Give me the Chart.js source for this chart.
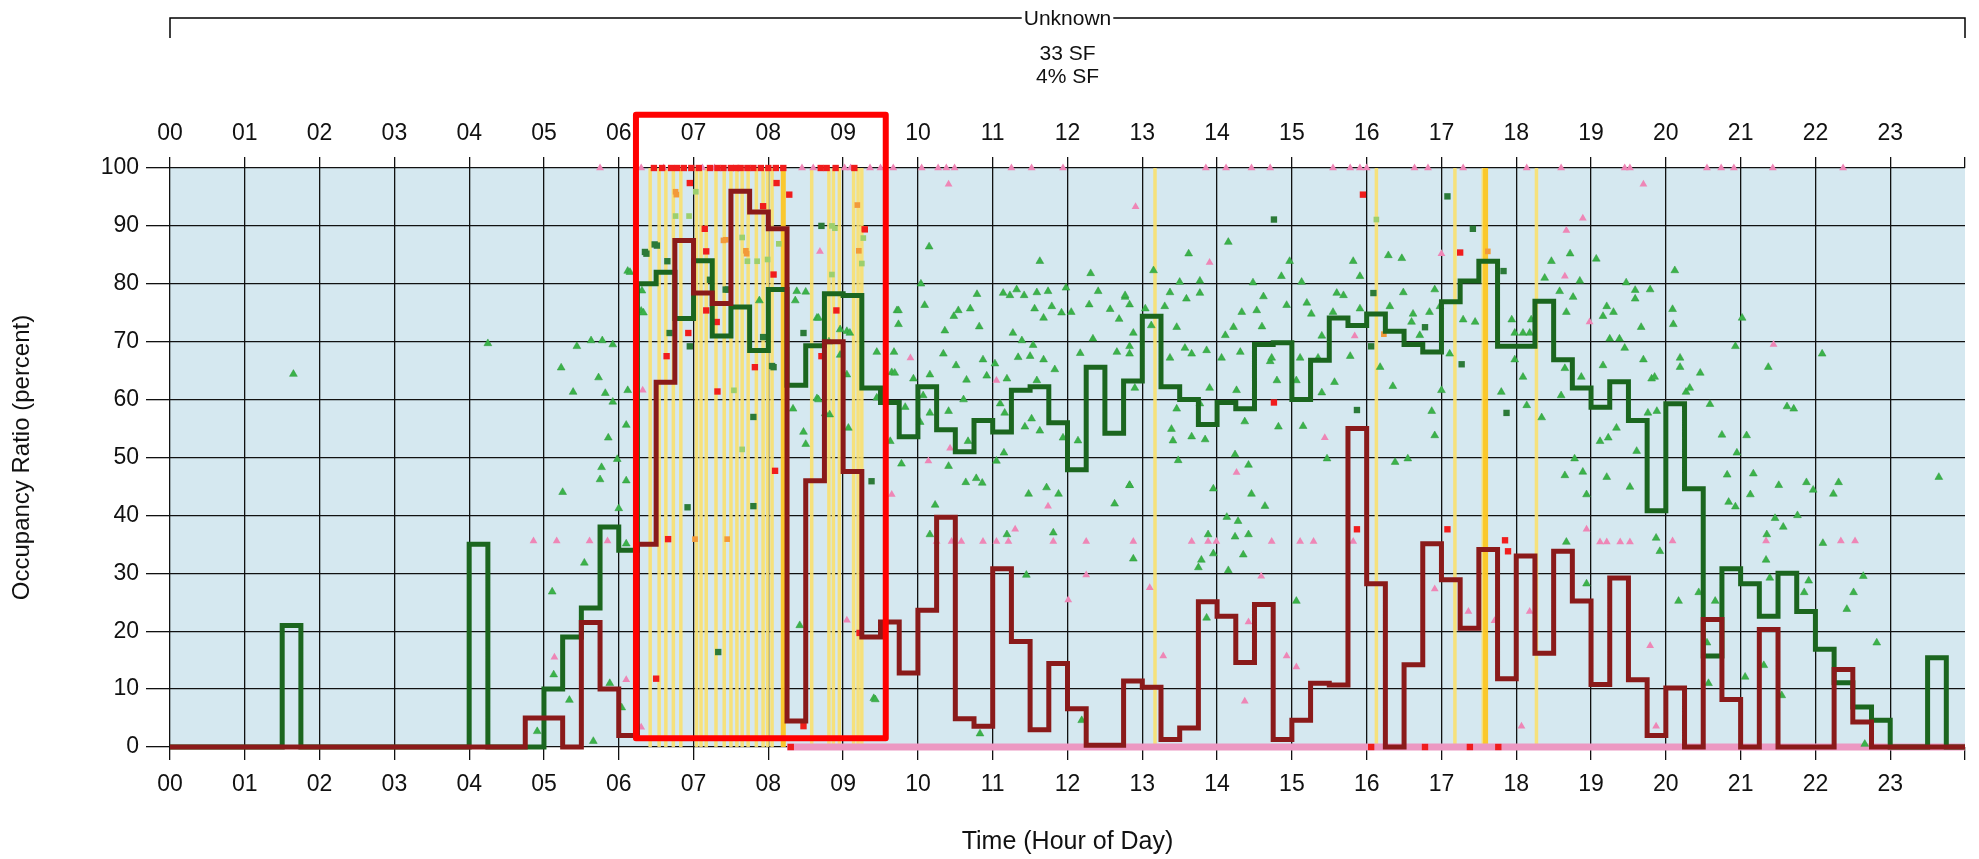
<!DOCTYPE html>
<html>
<head>
<meta charset="utf-8">
<script src="https://cdn.jsdelivr.net/npm/chart.js@4.4.1/dist/chart.umd.min.js"></script>
<style>
  html, body { margin: 0; padding: 0; background: #fff; }
  #wrap { width: 1979px; height: 859px; position: relative; }
</style>
</head>
<body>
<div id="wrap"><canvas id="occ"></canvas></div>
<script>
// hour labels shown on top and bottom axes
const hourLabels = ['00','01','02','03','04','05','06','07','08','09','10','11',
                    '12','13','14','15','16','17','18','19','20','21','22','23'];

// quarter-hour step values (index 0 = 00:00, 1 = 00:15 ...)
const greenSteps = [
  0, 0, 0, 0, 0, 0, 21, 0,  0, 0, 0, 0,  0, 0, 0, 0,
  35, 0, 0, 0, 10, 19, 24, 38,  34, 80, 82, 74,  84, 71, 76, 68.5,
  79, 62.5, 69.3, 78.3,  78, 62, 59.5, 53.6,  62.2, 54.8, 51, 56.4,  54.4, 61.6, 62.2, 56,
  47.9, 65.6, 54.2, 63.2,  74.4, 62.2, 60, 55.7,  59.5, 58.4, 69.5, 69.8,  60, 66.8, 74.1, 72.8,
  74.8, 71.8, 69.5, 68.2,  76.9, 80.5, 83.9, 69.2,  69.2, 77, 66.9, 62,  58.7, 63.1, 56.4, 40.8,
  59.3, 44.6, 15.7, 30.8,  28.2, 22.6, 30, 23.4,  16.9, 11.1, 6.9, 4.6,  0, 0, 15.4, 0
];
const redSteps = [
  0, 0, 0, 0, 0, 0, 0, 0,  0, 0, 0, 0,  0, 0, 0, 0,
  0, 0, 0, 5, 5, 0, 21.5, 10,  2, 35, 63, 87.5,  78.4, 76.6, 96, 92.4,
  89.5, 4.5, 46, 70,  47.6, 19, 21.6, 12.8,  23.6, 39.7, 4.9, 3.6,  30.8, 18.2, 3, 14.4,
  6.6, 0.3, 0.3, 11.4,  10.3, 1.3, 3.3, 25.1,  22.6, 14.6, 24.6, 1.3,  4.6, 11, 10.7, 55,
  28.2, 0, 14.2, 35.1,  28.9, 20.5, 34.1, 11.8,  33, 16.2, 33.8, 25.2,  10.8, 29.2, 11.6, 2,
  10.2, 0, 22, 8.2,  0, 20.3, 0, 0,  0, 13.4, 4.3, 0,  0, 0, 0, 0
];

// individual observations [hour, percent]
const greenTriangles = [
  [1.65,64.4],[4.25,69.7],[4.91,2.7],[5.11,26.8],[5.13,12.5],[5.23,65.5],[5.25,44],[5.34,8.1],
  [5.39,61.3],[5.44,69.2],[5.54,31.8],[5.63,70.2],[5.66,1],[5.73,63.8],[5.75,46.2],[5.77,48.3],
  [5.78,70.2],[5.82,61.1],[5.86,53.4],[5.88,11],[5.92,69.5],[5.92,59.6],[5.98,49.7],[6.0,41.2],
  [6.04,6.8],[6.1,55.6],[6.1,46],[6.1,35.1],[6.12,61.6],[6.12,82.2],[6.15,82],[6.3,75.3],
  [6.31,78.8],[6.33,75],[7.88,77.1],
  [8.33,58.4],[8.36,77.1],[8.38,78.7],[8.42,21],[8.47,54.4],[8.5,52.3],[8.5,78.6],[8.65,74.1],
  [8.65,60.2],[8.67,74.1],[8.67,60],[8.76,57.6],[8.81,70],[8.82,57.4],[8.96,72.1],[8.96,67.7],
  [9.05,71.8],[9.05,64.3],[9.07,55.1],[9.09,71.5],[9.41,8.4],[9.43,8.2],[9.45,68.2],[9.45,60.3],
  [9.63,52.8],[9.65,64.7],[9.68,68.2],[9.69,64.6],[9.72,75.4],[9.74,73],[9.74,75.4],[9.78,48.9],
  [9.83,58.7],[9.94,63.6],[10.03,56.1],[10.04,80],[10.07,60.7],[10.09,76.3],[10.15,86.4],[10.16,64.3],
  [10.16,57.7],[10.16,36.7],[10.23,41.8],[10.34,67.9],[10.36,71.9],[10.41,58],[10.41,48.5],[10.48,74.4],
  [10.51,65.9],[10.54,75.4],[10.61,60],[10.64,45.7],[10.65,63.4],[10.67,52.8],[10.7,75.7],[10.78,46.4],
  [10.79,78.2],[10.82,72.6],[10.83,2.3],[10.86,45.6],[10.87,66.9],[10.92,64.1],[11.03,66.2],[11.05,49.4],
  [11.1,59.3],[11.14,78.4],[11.15,50.8],[11.16,57.7],[11.19,63.6],[11.19,36.7],[11.23,78],[11.27,71.5],
  [11.32,79],[11.34,67.3],[11.39,70.2],[11.42,78],[11.43,55.3],[11.45,29.7],[11.48,43.7],[11.5,67.5],
  [11.52,56.7],[11.54,69.4],[11.56,75.7],[11.59,78.5],[11.59,63.3],[11.63,83.9],[11.63,54.6],[11.68,74.1],
  [11.68,66.9],[11.72,44.8],[11.74,78.7],[11.79,76.1],[11.81,37],[11.83,65.2],[11.88,43.7],[11.92,75],
  [11.94,53.4],[11.98,79.3],[12.05,75.1],[12.14,52.9],[12.17,68],[12.19,4.6],[12.29,76.4],[12.31,81.8],
  [12.34,70.5],[12.41,78.7],[12.57,75.6],[12.63,42],[12.66,68.2],[12.69,73.9],[12.77,77.7],[12.77,78],
  [12.83,69.2],[12.83,45.2],[12.83,76.4],[12.83,67.9],[12.83,45.2],[12.88,71.5],[12.88,32.5],[12.9,62],
  [13.04,75.7],[13.12,72.8],[13.15,82.3],[13.3,76.1],[13.37,78.5],[13.37,67.2],[13.39,54.9],[13.41,52.9],
  [13.46,72.5],[13.46,58.4],[13.48,49.5],[13.5,80.3],[13.57,68.9],[13.59,77.4],[13.62,85.2],[13.66,67.9],
  [13.66,53.6],[13.75,31],[13.77,80.5],[13.77,78.4],[13.77,59.3],[13.79,32.3],[13.84,53.1],[13.86,68.5],
  [13.86,22.3],[13.88,36.7],[13.9,62],[13.95,44.6],[13.95,33.4],[14.06,67.2],[14.11,71.1],[14.13,39.7],
  [14.15,87.2],[14.15,30.5],[14.22,72.5],[14.24,50.5],[14.24,36.3],[14.26,61.6],[14.28,39],[14.31,68.2],
  [14.33,75.1],[14.35,33.2],[14.37,56.2],[14.42,48.7],[14.42,36.7],[14.46,43.7],[14.48,80.2],[14.53,75.4],
  [14.6,72.6],[14.62,77.8],[14.64,41.6],[14.71,66.6],[14.73,67.2],[14.8,63.3],[14.82,55.3],[14.86,81.3],
  [14.93,76.3],[14.97,83.9],[15.06,63.3],[15.06,25.2],[15.11,67.2],[15.13,80.3],[15.15,55.4],[15.2,76.7],
  [15.26,74.8],[15.35,67.2],[15.4,71],[15.4,61.2],[15.47,49.8],[15.55,75.1],[15.57,63],[15.6,78.4],
  [15.69,78],[15.78,67.5],[15.82,83.9],[15.91,81.3],[15.91,75.7],
  [16.18,65.6],[16.29,84.9],[16.31,76.1],[16.35,62.3],[16.38,49.2],[16.47,84.4],[16.49,78.5],[16.55,49.8],
  [16.6,73.4],[16.62,74.8],[16.71,71.1],[16.84,75.1],[16.87,58],[16.91,79],[16.91,53.8],[16.98,76.1],
  [17.0,61.6],[17.11,67.9],[17.29,73.8],[17.45,73.4],[17.8,61.3],[17.94,73.8],[17.98,71.5],[17.98,66.9],
  [18.09,71.5],[18.09,63.9],[18.14,59],[18.18,71.5],[18.2,73.8],[18.34,56.9],[18.38,81],[18.47,83.9],
  [18.58,78.7],[18.6,60.7],[18.65,65.4],[18.65,46.9],[18.67,75.1],[18.67,35.4],[18.72,85.2],[18.76,77.7],
  [18.78,49.8],[18.85,80.5],[18.87,63.9],[18.89,47.5],[18.94,43.6],[18.94,28.2],[19.07,84.3],[19.12,52.8],
  [19.16,74.4],[19.16,65.9],[19.21,76.1],[19.21,46.6],[19.23,53.4],[19.25,70.5],[19.3,75.1],[19.34,55.1],
  [19.38,70.5],[19.45,68.9],[19.47,80.2],[19.52,44.9],[19.59,78.9],[19.59,77.4],[19.61,51.1],[19.67,72.5],
  [19.7,66.9],[19.76,57.7],[19.79,79],[19.81,63.6],[19.85,63.9],[19.87,36.1],[19.88,58],[19.92,33.8],
  [20.09,75.6],[20.1,73],[20.12,82.3],[20.17,25.2],[20.19,67.2],[20.19,65.6],[20.27,61.3],[20.32,62],
  [20.44,26.7],[20.46,64.6],[20.55,18],[20.57,11],[20.59,59.2],[20.66,25.2],[20.75,53.9],[20.82,47],
  [20.84,42.3],[20.93,69.2],[20.93,41.5],[20.95,50.8],[21.02,74.1],[21.06,12.1],[21.08,53.8],[21.13,43.6],
  [21.17,47.2],[21.31,14.1],[21.34,32.3],[21.35,36.7],[21.37,65.6],[21.39,29.2],[21.46,39.5],[21.51,45.2],
  [21.55,8.9],[21.57,38],[21.62,58.8],[21.71,58.4],[21.76,40],[21.85,26.7],[21.88,45.7],[21.91,28.7],
  [21.97,44.4],[22.09,67.9],[22.1,35.2],[22.24,43.7],[22.31,45.7],[22.42,23.8],[22.51,26.7],[22.64,29.5],
  [22.66,0.5],[22.82,18],[23.65,46.6]
];
const pinkTriangles = [
  [5.75,100],[6.3,100],[6.6,100],[7.12,100],[7.28,100],[8.45,100],[8.6,100],[9.02,100],[9.1,100],
  [9.36,100],[9.5,100],[9.67,100],[10.05,100],[10.27,100],[10.38,100],[10.49,100],[11.25,100],
  [11.52,100],[11.94,100],[13.85,100],[14.12,100],[14.46,100],[14.71,100],[15.55,100],[15.78,100],
  [15.91,100],[16.0,100],[16.64,100],[16.82,100],[17.29,100],[18.14,100],[18.6,100],[19.45,100],
  [19.52,100],[20.55,100],[20.74,100],[20.91,100],[21.43,100],[22.37,100],
  [4.86,35.6],[5.17,35.6],[5.61,35.6],[5.85,35.6],[5.14,15.5],[6.1,11.6],[6.3,3.4],[6.32,61.6],
  [8.69,85.6],[9.05,21.9],[9.65,43.6],[9.9,67.2],[10.14,49.4],[10.41,97.2],[10.43,51.6],[11.05,63.3],
  [11.3,37.6],[11.74,41.6],[12.01,25.4],[12.25,29.7],
  [10.25,35.5],[10.45,35.5],[10.58,35.5],[10.87,35.5],[11.05,35.5],[11.21,35.5],[11.81,35.5],[12.25,35.5],
  [12.88,35.5],[13.66,35.5],[13.88,35.5],[13.99,35.5],[14.73,35.5],[15.11,35.5],[15.29,35.5],[15.82,35.5],
  [12.91,93.3],[13.9,83.7],[14.26,47.4],[13.1,27.5],[14.59,29.5],[14.42,21.6],[13.28,15.7],[14.93,15.7],
  [15.06,13.8],[15.44,53.4],[14.37,7.9],[15.84,71],
  [19.7,97.2],[18.89,91.3],[18.67,89.2],[17.0,85.2],[18.65,81.3],[18.98,73.4],[16.91,27.3],[17.36,23.4],
  [17.71,21.8],[18.18,23.4],[18.07,3.6],[18.94,37.6],[19.12,35.4],[19.21,35.4],[19.39,35.4],[19.52,35.4],
  [19.79,17.5],[20.09,35.6],[21.34,35.6],[22.34,35.6],[22.53,35.6],[21.44,69.5],[19.87,3.6]
];
const darkGreenSquares = [
  [6.35,85.5],[6.48,86.8],[6.37,85.2],[6.51,86.6],[6.65,83.9],[6.68,71.5],[6.95,69.2],[6.92,41.4],
  [7.33,16.4],[7.8,57],[7.8,41.6],[7.93,70.8],[7.46,79],[7.22,80.7],[7.43,79],[8.05,65.8],
  [8.07,65.6],[8.47,71.5],[8.71,90],[9.38,45.9],[14.76,91.1],[15.87,58.2],[16.06,69.2],[16.09,78.4],
  [16.78,72.5],[17.08,95.1],[17.27,66.1],[17.42,89.5],[17.83,82.2],[17.87,57.7]
];
const redSquares = [
  [6.47,100],[6.58,100],[6.7,100],[6.78,100],[6.87,100],[6.97,100],[7.07,100],[7.22,100],[7.32,100],
  [7.4,100],[7.5,100],[7.57,100],[7.63,100],[7.72,100],[7.8,100],[7.9,100],[8.0,100],[8.1,100],
  [8.2,100],[8.7,100],[8.78,100],[8.9,100],[9.15,100],
  [6.95,97.4],[7.15,89.5],[7.17,85.6],[6.93,71.5],[6.64,67.5],[7.32,61.4],[6.66,35.9],[6.5,11.8],
  [7.31,73.4],[7.17,75.4],[7.93,93.4],[7.82,65.6],[8.11,97.4],[8.28,95.4],[8.07,81.6],[8.71,67.5],
  [8.09,47.7],[8.47,3.6],[8.91,75.4],[9.29,89.4],[9.22,19.7],
  [14.76,59.5],[15.95,95.4],[15.87,37.6],[17.25,85.4],[17.08,37.6],[17.85,35.7],[17.89,33.8],
  [8.3,0],[16.06,0],[16.78,0],[17.38,0],[17.76,0]
];
const orangeMarks = [
  [7.02,35.9],[7.45,35.9],[7.7,85.7],[9.21,85.7],[9.19,93.6],[6.76,95.9],[7.43,87.6],[9.28,89.5],
  [6.77,95.4],[7.4,87.5],[7.71,85.2],[16.23,71.3],[17.62,85.6]
];
const paleGreenMarks = [
  [6.76,91.7],[6.94,91.7],[7.03,95.9],[7.65,88],[7.72,83.9],[7.85,83.9],[7.99,84.2],[8.85,90],
  [8.85,81.6],[9.25,83.5],[7.54,61.6],[7.65,51.4],[8.14,86.9],[8.89,89.6],[9.27,87.9],[16.13,91.1]
];
// pink observations packed on the 0 line
const pinkBaseline = [[8.25,0],[24,0]];

// hours carrying a yellow flag line
const flagHours = [6.42,6.54,6.63,6.73,6.83,7.04,7.1,7.17,7.3,7.41,7.5,7.58,7.65,7.73,7.84,
                   7.93,7.99,8.05,8.58,8.81,8.87,8.95,9.14,9.2,9.25,13.17,16.13,17.18,17.56,18.27];
const thickFlagHours = [8.2,17.59];

// red highlight around the morning peak: [fromHour, toHour, fromPct, toPct]
const highlightRange = [6.23, 9.57, 1.5, 109.2];

const headerLines = ['Unknown', '33 SF', '4% SF'];

const FONT = "'Liberation Sans', Arial, sans-serif";

function toXY(list) { return list.map(p => ({ x: p[0], y: p[1] })); }
function stepPoints(vals) {
  const pts = vals.map((v, i) => ({ x: i / 4, y: v }));
  pts.push({ x: 24, y: vals[vals.length - 1] });
  return pts;
}

const plotDecor = {
  id: 'plotDecor',
  beforeDraw(chart) {
    const { ctx, chartArea: a } = chart;
    ctx.save();
    ctx.fillStyle = '#d5e8f0';
    ctx.fillRect(a.left, a.top, a.right - a.left, a.bottom - a.top);
    ctx.restore();
  },
  beforeDatasetsDraw(chart) {
    const { ctx, scales: { x, y } } = chart;
    ctx.save();
    ctx.strokeStyle = 'rgba(250,224,110,0.9)';
    ctx.lineWidth = 3.5;
    flagHours.forEach(h => {
      const px = x.getPixelForValue(h);
      ctx.beginPath();
      ctx.moveTo(px, y.getPixelForValue(100));
      ctx.lineTo(px, y.getPixelForValue(0));
      ctx.stroke();
    });
    ctx.strokeStyle = 'rgba(252,198,36,0.95)';
    ctx.lineWidth = 5;
    thickFlagHours.forEach(h => {
      const px = x.getPixelForValue(h);
      ctx.beginPath();
      ctx.moveTo(px, y.getPixelForValue(100));
      ctx.lineTo(px, y.getPixelForValue(0));
      ctx.stroke();
    });
    ctx.restore();
  },
  afterDraw(chart) {
    const { ctx, chartArea: a, scales: { x, y } } = chart;
    ctx.save();
    // header bracket
    ctx.strokeStyle = '#000';
    ctx.lineWidth = 1.5;
    ctx.beginPath();
    ctx.moveTo(a.left, 38); ctx.lineTo(a.left, 18);
    ctx.lineTo(a.right, 18); ctx.lineTo(a.right, 38);
    ctx.stroke();
    const cx = (a.left + a.right) / 2;
    ctx.font = '21px ' + FONT;
    ctx.textAlign = 'center';
    ctx.textBaseline = 'middle';
    const w = ctx.measureText(headerLines[0]).width;
    ctx.fillStyle = '#fff';
    ctx.fillRect(cx - w / 2 - 2, 7, w + 4, 22);
    ctx.fillStyle = '#111';
    ctx.fillText(headerLines[0], cx, 19);
    ctx.fillText(headerLines[1], cx, 54);
    ctx.fillText(headerLines[2], cx, 77);
    // red highlight box
    const [h0, h1, v0, v1] = highlightRange;
    const l = x.getPixelForValue(h0), r = x.getPixelForValue(h1);
    const t = y.getPixelForValue(v1), b = y.getPixelForValue(v0);
    ctx.strokeStyle = '#ff0000';
    ctx.lineWidth = 6;
    ctx.lineJoin = 'round';
    ctx.strokeRect(l, t, r - l, b - t);
    ctx.restore();
  }
};

const gridColor = c => (c.tick && c.tick.value === 24 ? 'rgba(0,0,0,0)' : '#111');
const hourTick = v => (v >= 0 && v < 24 ? hourLabels[v] : '');

new Chart(document.getElementById('occ'), {
  type: 'scatter',
  data: {
    datasets: [
      { label: 'Red', data: stepPoints(redSteps), showLine: true, stepped: true,
        borderColor: '#8a1a1a', borderWidth: 5, pointRadius: 0, order: 0, clip: false },
      { label: 'Green', data: stepPoints(greenSteps), showLine: true, stepped: true,
        borderColor: '#1b661f', borderWidth: 5, pointRadius: 0, order: 1, clip: false },
      { label: 'Red obs', data: toXY(redSquares), pointStyle: 'rect', pointRadius: 4.5,
        backgroundColor: '#f01c1c', borderWidth: 0, order: 2, clip: false },
      { label: 'Orange obs', data: toXY(orangeMarks), pointStyle: 'rect', pointRadius: 4,
        backgroundColor: '#f29a3a', borderWidth: 0, order: 3, clip: false },
      { label: 'Dark green obs', data: toXY(darkGreenSquares), pointStyle: 'rect', pointRadius: 4.5,
        backgroundColor: '#2b7a38', borderWidth: 0, order: 3, clip: false },
      { label: 'Pale green obs', data: toXY(paleGreenMarks), pointStyle: 'rect', pointRadius: 4,
        backgroundColor: '#9ccf6e', borderWidth: 0, order: 3, clip: false },
      { label: 'Green obs', data: toXY(greenTriangles), pointStyle: 'triangle', pointRadius: 4.5,
        backgroundColor: '#3bb24a', borderColor: '#2c9a3a', borderWidth: 0.5, order: 4, clip: false },
      { label: 'Pink obs', data: toXY(pinkTriangles), pointStyle: 'triangle', pointRadius: 4.5,
        backgroundColor: '#ee86b6', borderWidth: 0, order: 5, clip: false },
      { label: 'Pink zero', data: toXY(pinkBaseline), showLine: true, borderColor: '#ec98c2',
        borderWidth: 7, pointRadius: 0, order: 6, clip: false }
    ]
  },
  options: {
    responsive: true,
    maintainAspectRatio: false,
    animation: false,
    devicePixelRatio: 1,
    layout: { padding: { left: 0, right: 14, top: 0, bottom: 0 } },
    plugins: { legend: { display: false }, tooltip: { enabled: false } },
    scales: {
      x: {
        type: 'linear', position: 'bottom', min: 0, max: 24,
        afterFit: s => { s.height = 112; },
        ticks: { stepSize: 1, autoSkip: false, maxRotation: 0, padding: 11, color: '#111',
                 font: { family: FONT, size: 23 }, callback: hourTick },
        grid: { color: gridColor, lineWidth: 1.3, tickLength: 13, tickColor: '#111' },
        border: { display: false },
        title: { display: true, text: 'Time (Hour of Day)', color: '#111',
                 font: { family: FONT, size: 25 }, padding: { top: 0, bottom: 2 } }
      },
      xTop: {
        type: 'linear', position: 'top', min: 0, max: 24,
        afterFit: s => { s.height = 168; },
        ticks: { stepSize: 1, autoSkip: false, maxRotation: 0, padding: 10, color: '#111',
                 font: { family: FONT, size: 23 }, callback: hourTick },
        grid: { drawOnChartArea: false, color: gridColor, lineWidth: 1.3, tickLength: 11, tickColor: '#111' },
        border: { display: false }
      },
      y: {
        type: 'linear', min: 0, max: 100,
        afterFit: s => { s.width = 170; },
        ticks: { stepSize: 10, padding: 7, color: '#111', font: { family: FONT, size: 23 } },
        grid: { color: '#111', lineWidth: 1.3, tickLength: 24, tickColor: '#111' },
        border: { display: false },
        title: { display: true, text: 'Occupancy Ratio (percent)', color: '#111',
                 font: { family: FONT, size: 24 }, padding: { top: 8, bottom: 0 } }
      }
    }
  },
  plugins: [plotDecor]
});
</script>
</body>
</html>
